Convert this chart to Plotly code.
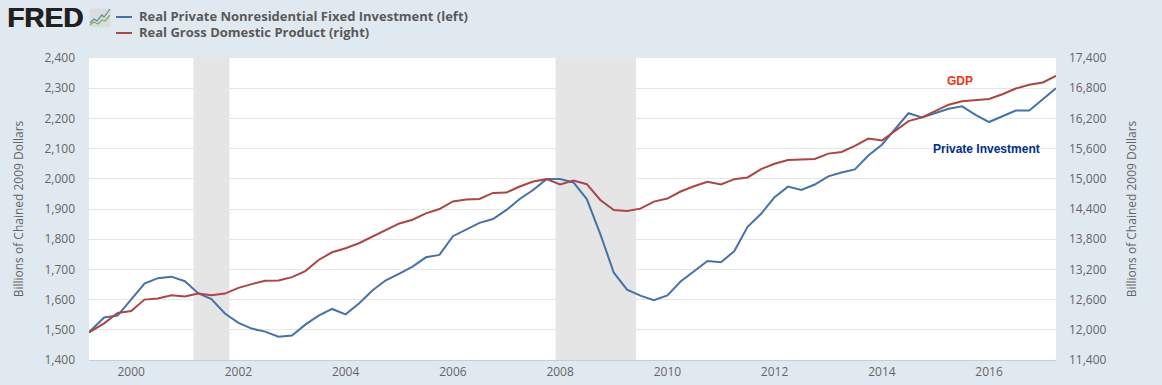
import plotly.graph_objects as go
import pandas as pd

# Quarterly observations, 1999 Q2 to 2017 Q2
dates = ["1999-03-20"] + [d.strftime("%Y-%m-%d") for d in pd.date_range("1999-07-01", "2017-04-01", freq="QS")]

investment = [1492, 1541, 1547, 1601, 1653, 1671, 1676, 1661, 1621, 1602, 1554,
              1523, 1504, 1494, 1477, 1481, 1517, 1547, 1569, 1551, 1587, 1630,
              1664, 1686, 1709, 1740, 1748, 1810, 1833, 1854, 1867, 1897, 1933,
              1963, 1999, 1999, 1988, 1933, 1817, 1689, 1633, 1613, 1598, 1614,
              1660, 1693, 1728, 1724, 1760, 1841, 1884, 1939, 1974, 1963, 1981,
              2008, 2021, 2031, 2077, 2113, 2163, 2217, 2203, 2217, 2232, 2240,
              2212, 2188, 2207, 2226, 2226, 2262, 2300]

gdp = [11947, 12127, 12333, 12373, 12600, 12620, 12687, 12660, 12720, 12687, 12720,
       12833, 12907, 12973, 12980, 13047, 13167, 13387, 13540, 13620, 13720, 13853,
       13973, 14113, 14187, 14313, 14400, 14550, 14587, 14600, 14720, 14727, 14847,
       14947, 14993, 14887, 14967, 14893, 14580, 14380, 14360, 14407, 14547, 14607,
       14747, 14853, 14940, 14887, 14993, 15027, 15193, 15300, 15373, 15387, 15393,
       15500, 15533, 15653, 15800, 15760, 15947, 16147, 16220, 16353, 16473, 16540,
       16560, 16587, 16680, 16793, 16867, 16913, 17047]

recessions = [("2001-03-01", "2001-11-01"), ("2007-12-01", "2009-06-01")]
x_ticks = ["%d-01-01" % y for y in range(2000, 2017, 2)]
x_labels = [str(y) for y in range(2000, 2017, 2)]

BLUE = "#4572A7"
RED = "#AA4643"
BG = "#E1E9F0"
TXT = "#666666"
TICKFONT = dict(family="Open Sans", size=12, color=TXT)

W, H = 1162, 385
L, R, T, B = 89, 106, 58, 25
def px(x): return (x - L) / (W - L - R)
def py(y): return 1 - (y - T) / (H - T - B)

fig = go.Figure()
fig.add_trace(go.Scatter(x=dates, y=investment, mode="lines", yaxis="y",
                         name="Real Private Nonresidential Fixed Investment (left)",
                         line=dict(color=BLUE, width=2)))
fig.add_trace(go.Scatter(x=dates, y=gdp, mode="lines", yaxis="y2",
                         name="Real Gross Domestic Product (right)",
                         line=dict(color=RED, width=2)))

shapes = []
for a, b in recessions:
    shapes.append(dict(type="rect", xref="x", yref="paper", x0=a, x1=b, y0=0, y1=1,
                       fillcolor="#E5E5E5", line_width=0, layer="between"))

# legend samples
for yy, c in ((17, BLUE), (33, RED)):
    shapes.append(dict(type="line", xref="paper", yref="paper", x0=px(116), x1=px(132),
                       y0=py(yy), y1=py(yy), line=dict(color=c, width=2)))

# FRED logo icon
shapes.append(dict(type="rect", xref="paper", yref="paper", x0=px(89.5), x1=px(110.5),
                   y0=py(27), y1=py(8.5), fillcolor="#D9DEDC", line_width=0))
def poly(pts):
    return "M " + " L ".join("%.5f,%.5f" % (px(a), py(b)) for a, b in pts)
shapes.append(dict(type="path", xref="paper", yref="paper",
                   path=poly([(90, 23), (94, 19), (97, 21), (102, 15), (104, 17), (110, 9)]),
                   line=dict(color="#5F8AB0", width=1.2)))
shapes.append(dict(type="path", xref="paper", yref="paper",
                   path=poly([(90, 25), (94, 22), (98, 24), (102, 20), (105, 21), (110, 15)]),
                   line=dict(color="#86AD5C", width=1.2)))

annotations = [
    dict(text="<b>FRED</b>", xref="paper", yref="paper", x=px(5), y=py(17.5), xanchor="left", yanchor="middle",
         showarrow=False, font=dict(family="Liberation Sans", size=28, color="#231F20",
                                    shadow="0.7px 0 0 #231F20")),
    dict(text="<b>Real Private Nonresidential Fixed Investment (left)</b>", xref="paper", yref="paper",
         x=px(137), y=py(15.5), xanchor="left", yanchor="middle", showarrow=False,
         font=dict(family="Open Sans", size=13, color="#595959")),
    dict(text="<b>Real Gross Domestic Product (right)</b>", xref="paper", yref="paper",
         x=px(137), y=py(31.5), xanchor="left", yanchor="middle", showarrow=False,
         font=dict(family="Open Sans", size=13, color="#595959")),
    dict(text="<b>GDP</b>", x="2015-06-20", y=2325, xref="x", yref="y", showarrow=False,
         font=dict(family="Liberation Sans", size=12, color="#EE3311")),
    dict(text="<b>Private Investment</b>", x="2015-12-15", y=2100, xref="x", yref="y", showarrow=False,
         font=dict(family="Liberation Sans", size=12, color="#003087")),
]

fig.update_layout(
    width=W, height=H,
    margin=dict(l=L, r=R, t=T, b=B, pad=0, autoexpand=False),
    paper_bgcolor=BG, plot_bgcolor="#FFFFFF",
    showlegend=False,
    shapes=shapes, annotations=annotations,
    xaxis=dict(type="date", range=["1999-03-20", "2017-04-01"], tickmode="array", automargin=False,
               tickvals=x_ticks, ticktext=x_labels, tickfont=TICKFONT, ticklabelstandoff=1,
               showgrid=False, showline=True, linecolor="#C0D0E0", linewidth=1,
               ticks="", zeroline=False),
    yaxis=dict(range=[1400, 2400], tick0=1400, dtick=100, tickformat=",", tickfont=TICKFONT,
               ticklabelstandoff=13, automargin=False,
               gridcolor="#E6E6E6", gridwidth=1, zeroline=False, showline=False, ticks="",
               title=dict(text="Billions of Chained 2009 Dollars", standoff=18,
                          font=dict(family="Open Sans", size=12, color=TXT))),
    yaxis2=dict(range=[11400, 17400], tick0=11400, dtick=600, tickformat=",", tickfont=TICKFONT,
                ticklabelstandoff=12, automargin=False,
                overlaying="y", side="right", showgrid=False, zeroline=False, showline=False, ticks="",
                title=dict(text="Billions of Chained 2009 Dollars", standoff=22,
                           font=dict(family="Open Sans", size=12, color=TXT))),
)

fig.write_html("out.html", config=dict(displayModeBar=False),
               post_script="document.body.style.margin='0';document.body.style.overflow='hidden';window.dispatchEvent(new Event('resize'));")
